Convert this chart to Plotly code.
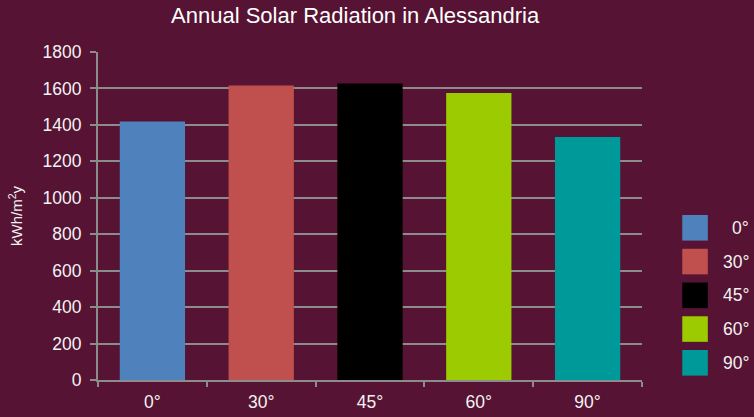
import plotly.graph_objects as go

categories = ["0°", "30°", "45°", "60°", "90°"]
values = [1418, 1616, 1627, 1575, 1333]
colors = ["#4F81BD", "#C0504D", "#000000", "#9BCB00", "#009999"]
y_ticks = [0, 200, 400, 600, 800, 1000, 1200, 1400, 1600, 1800]

BG = "#561333"
GRID = "#8C8C8C"
TXT = "#F2F2F2"
FONT = "Liberation Sans, Arial, sans-serif"

fig = go.Figure()
fig.add_trace(go.Bar(
    x=categories, y=values,
    marker=dict(color=colors, line=dict(width=0)),
    showlegend=False,
))

# legend built from categories/colors
shapes = []
annotations = []
top = 0.503
step = 0.1029
sq = 0.078
for i, (c, col) in enumerate(zip(categories, colors)):
    y0 = top - i * step
    shapes.append(dict(type="rect", xref="paper", yref="paper",
                       x0=1.074, x1=1.121, y0=y0 - sq, y1=y0,
                       fillcolor=col, line=dict(width=0)))
    annotations.append(dict(xref="paper", yref="paper", x=1.2, y=y0 - sq / 2,
                            text=c, showarrow=False, xanchor="right", yanchor="middle",
                            font=dict(size=17.5, color=TXT, family=FONT)))

fig.update_layout(
    width=754, height=417,
    paper_bgcolor=BG, plot_bgcolor=BG,
    margin=dict(l=98, r=112, t=52, b=37),
    title=dict(text="Annual Solar Radiation in Alessandria", x=0.471, xanchor="center",
               y=0.964, yanchor="middle",
               font=dict(size=22, color="#FFFFFF", family=FONT)),
    font=dict(family=FONT, color=TXT),
    bargap=0.4,
    shapes=shapes,
    annotations=annotations,
    xaxis=dict(
        showgrid=False, showline=True, linecolor=GRID, linewidth=2,
        ticks="outside", ticklen=5, tickcolor=GRID, tickwidth=2,
        tickson="boundaries", ticklabelstandoff=5, automargin=False,
        tickfont=dict(size=17.5, color=TXT, family=FONT),
    ),
    yaxis=dict(
        range=[0, 1800], tickvals=y_ticks,
        showgrid=True, gridcolor=GRID, gridwidth=2,
        showline=True, linecolor=GRID, linewidth=2,
        ticks="outside", ticklen=6, tickcolor=GRID, tickwidth=2,
        zeroline=False, ticklabelstandoff=5, automargin=False,
        tickfont=dict(size=17.5, color=TXT, family=FONT),
        title=dict(text="kWh/m<sup>2</sup>y", standoff=16,
                   font=dict(size=15, color=TXT, family=FONT)),
    ),
)

fig.write_html("out.html", config={"displayModeBar": False},
               post_script="document.body.style.margin='0';document.body.style.background='%s';" % BG)
